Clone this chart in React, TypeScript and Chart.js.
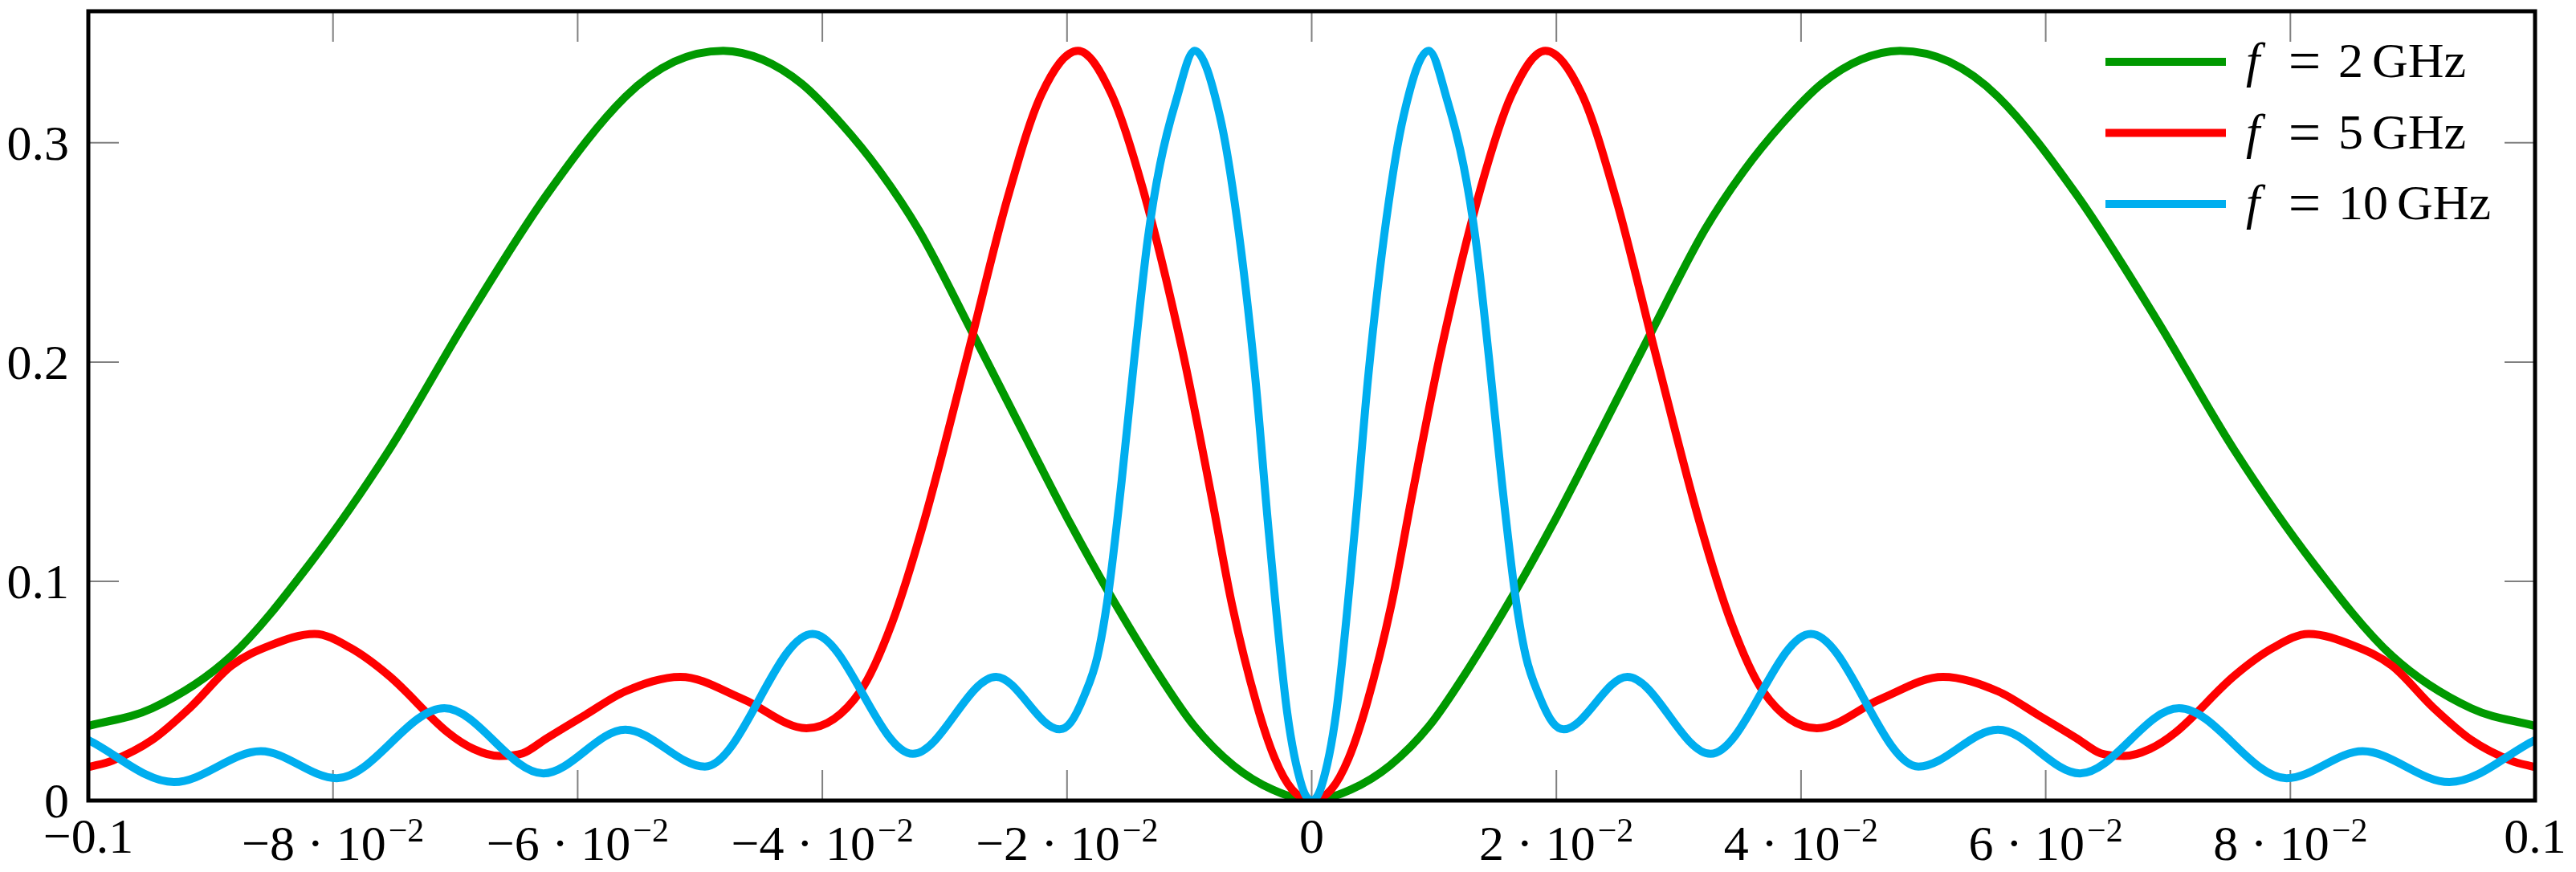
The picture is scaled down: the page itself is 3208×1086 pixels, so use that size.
import React, { useEffect, useRef } from "react";
import { Chart, registerables } from "chart.js";

Chart.register(...registerables);

// f = 2 GHz
const x2 = [
  -0.1, -0.0948, -0.0883, -0.0819, -0.0754, -0.069, -0.0625, -0.0561, -0.0521, -0.0481, -0.0449, -0.0417,
  -0.0385, -0.0353, -0.0321, -0.0277, -0.0224, -0.0197, -0.0165, -0.0128, -0.0096, -0.0064, -0.0032,
  0, 0.0032, 0.0064, 0.0096, 0.0128, 0.0165, 0.0197, 0.0224, 0.0277, 0.0321, 0.0353, 0.0385, 0.0417,
  0.0449, 0.0481, 0.0521, 0.0561, 0.0625, 0.069, 0.0754, 0.0819, 0.0883, 0.0948, 0.1,
];
const y2 = [
  0.034, 0.042, 0.066, 0.108, 0.16, 0.22, 0.2765, 0.321, 0.337, 0.342, 0.338, 0.327,
  0.309, 0.287, 0.26, 0.213, 0.155, 0.126, 0.094, 0.06, 0.034, 0.016, 0.005,
  0, 0.005, 0.016, 0.034, 0.06, 0.094, 0.126, 0.155, 0.213, 0.26, 0.287, 0.309, 0.327,
  0.338, 0.342, 0.337, 0.321, 0.2765, 0.22, 0.16, 0.108, 0.066, 0.042, 0.034,
];

// f = 5 GHz
const x5 = [
  -0.1, -0.098, -0.0948, -0.0916, -0.0883, -0.0851, -0.0815, -0.0786, -0.0754, -0.0706, -0.0685, -0.0664,
  -0.0645, -0.0625, -0.0593, -0.0561, -0.0516, -0.0465, -0.0413, -0.0369, -0.0343, -0.0317, -0.0282,
  -0.02485, -0.0221, -0.0191, -0.01635, -0.0138, -0.0106, -0.0082, -0.0065, -0.0045, -0.003, -0.0016,
  0, 0.0016, 0.003, 0.0045, 0.0065, 0.0082, 0.0106, 0.0138, 0.01635, 0.0191, 0.0221, 0.02485,
  0.0282, 0.0317, 0.0343, 0.0369, 0.0413, 0.0465, 0.0516, 0.0561, 0.0593, 0.0625, 0.0645, 0.0664,
  0.0685, 0.0706, 0.0754, 0.0786, 0.0815, 0.0851, 0.0883, 0.0916, 0.0948, 0.098, 0.1,
];
const y5 = [
  0.0152, 0.0183, 0.0276, 0.0428, 0.0615, 0.0708, 0.076, 0.0697, 0.0568, 0.031, 0.0235, 0.0203,
  0.0215, 0.0285, 0.0393, 0.0498, 0.0564, 0.0463, 0.033, 0.0498, 0.081, 0.127, 0.2017,
  0.275, 0.322, 0.342, 0.322, 0.279, 0.206, 0.139, 0.089, 0.044, 0.019, 0.005,
  0, 0.005, 0.019, 0.044, 0.089, 0.139, 0.206, 0.279, 0.322, 0.342, 0.322, 0.275,
  0.2017, 0.127, 0.081, 0.0498, 0.033, 0.0463, 0.0564, 0.0498, 0.0393, 0.0285, 0.0215, 0.0203,
  0.0235, 0.031, 0.0568, 0.0697, 0.076, 0.0708, 0.0615, 0.0428, 0.0276, 0.0183, 0.0152,
];

// f = 10 GHz
const x10 = [
  -0.1, -0.093, -0.0859, -0.0797, -0.0709, -0.0628, -0.0561, -0.0496, -0.0408, -0.0326, -0.0258,
  -0.0206, -0.0197, -0.0186, -0.0175, -0.01663, -0.01553, -0.0145, -0.0134, -0.0124, -0.0111,
  -0.00956, -0.0075, -0.0061, -0.00465, -0.0035, -0.002, -0.0008,
  0, 0.0008, 0.002, 0.0035, 0.00465, 0.0061, 0.0075, 0.00956, 0.0111, 0.0124, 0.0134, 0.0145,
  0.01553, 0.01663, 0.0175, 0.0186, 0.0197, 0.0206, 0.0258, 0.0326, 0.0408, 0.0496, 0.0561,
  0.0628, 0.0709, 0.0797, 0.0859, 0.093, 0.1,
];
const y10 = [
  0.0276, 0.0084, 0.0225, 0.0102, 0.0421, 0.0124, 0.0323, 0.0155, 0.076, 0.0213, 0.0564,
  0.0325, 0.0356, 0.0477, 0.066, 0.094, 0.146, 0.2015, 0.256, 0.29, 0.319,
  0.342, 0.312, 0.265, 0.195, 0.122, 0.04, 0.0065,
  0, 0.0065, 0.04, 0.122, 0.195, 0.265, 0.312, 0.342, 0.319, 0.29, 0.256, 0.2015,
  0.146, 0.094, 0.066, 0.0477, 0.0356, 0.0325, 0.0564, 0.0213, 0.076, 0.0155, 0.0323,
  0.0124, 0.0421, 0.0102, 0.0225, 0.0084, 0.0276,
];

const xTicks = [-0.1, -0.08, -0.06, -0.04, -0.02, 0, 0.02, 0.04, 0.06, 0.08, 0.1];
const xTickLabels = [
  "−0.1", "−8 · 10^−2", "−6 · 10^−2", "−4 · 10^−2", "−2 · 10^−2", "0",
  "2 · 10^−2", "4 · 10^−2", "6 · 10^−2", "8 · 10^−2", "0.1",
];
const yTicks = [0, 0.1, 0.2, 0.3];
const yTickLabels = ["0", "0.1", "0.2", "0.3"];

const freqs = ["2", "5", "10"];
const colors = ["rgb(0,153,0)", "rgb(255,0,0)", "rgb(0,174,239)"];

const SERIF = '"Liberation Serif", "DejaVu Serif", serif';
const FONT = 62;
const SUP = 42;
const TICK_LEN = 38;

const axisPlugin = {
  id: "pgfAxis",
  beforeDatasetsDraw(chart: any) {
    const { ctx, chartArea: a, scales } = chart;
    ctx.save();
    ctx.strokeStyle = "#808080";
    ctx.lineWidth = 2;
    ctx.beginPath();
    xTicks.forEach((v) => {
      const px = scales.x.getPixelForValue(v);
      ctx.moveTo(px, a.bottom);
      ctx.lineTo(px, a.bottom - TICK_LEN);
      ctx.moveTo(px, a.top);
      ctx.lineTo(px, a.top + TICK_LEN);
    });
    yTicks.forEach((v) => {
      const py = scales.y.getPixelForValue(v);
      ctx.moveTo(a.left, py);
      ctx.lineTo(a.left + TICK_LEN, py);
      ctx.moveTo(a.right, py);
      ctx.lineTo(a.right - TICK_LEN, py);
    });
    ctx.stroke();
    ctx.restore();
  },
  afterDatasetsDraw(chart: any) {
    const { ctx, chartArea: a, scales } = chart;
    ctx.save();

    // frame
    ctx.strokeStyle = "#000";
    ctx.lineWidth = 5;
    ctx.lineJoin = "miter";
    ctx.strokeRect(a.left, a.top, a.right - a.left, a.bottom - a.top);

    ctx.fillStyle = "#000";
    ctx.textBaseline = "alphabetic";

    // x labels, with the exponent raised
    xTicks.forEach((v, i) => {
      const cx = scales.x.getPixelForValue(v);
      const [main, sup] = xTickLabels[i].split("^");
      ctx.font = `${FONT}px ${SERIF}`;
      const wMain = ctx.measureText(main).width;
      ctx.textAlign = "left";
      if (!sup) {
        ctx.fillText(main, cx - wMain / 2, a.bottom + 65);
        return;
      }
      ctx.font = `${SUP}px ${SERIF}`;
      const wSup = ctx.measureText(sup).width;
      const gap = 3;
      const start = cx - (wMain + gap + wSup) / 2;
      ctx.font = `${FONT}px ${SERIF}`;
      ctx.fillText(main, start, a.bottom + 74);
      ctx.font = `${SUP}px ${SERIF}`;
      ctx.fillText(sup, start + wMain + gap, a.bottom + 51);
    });

    // y labels
    ctx.font = `${FONT}px ${SERIF}`;
    ctx.textAlign = "right";
    yTicks.forEach((v, i) => {
      const py = scales.y.getPixelForValue(v);
      ctx.fillText(yTickLabels[i], a.left - 24, py + 21);
    });

    // legend
    freqs.forEach((f, i) => {
      const ly = a.top + 63 + i * 88.5;
      ctx.strokeStyle = colors[i];
      ctx.lineWidth = 10;
      ctx.lineCap = "butt";
      ctx.beginPath();
      ctx.moveTo(a.right - 535, ly);
      ctx.lineTo(a.right - 385, ly);
      ctx.stroke();

      const base = ly + 19;
      ctx.textAlign = "left";
      ctx.font = `italic ${FONT}px ${SERIF}`;
      ctx.fillText("f", a.right - 360, base);
      ctx.textAlign = "center";
      ctx.font = `72px ${SERIF}`;
      ctx.fillText("=", a.right - 287, ly + 23);
      ctx.textAlign = "left";
      ctx.font = `${FONT}px ${SERIF}`;
      const nx = a.right - 245;
      ctx.fillText(f, nx, base);
      const w = ctx.measureText(f).width;
      ctx.fillText("GHz", nx + w + 11, base);
    });

    ctx.restore();
  },
};

export default function App() {
  const canvasRef = useRef<HTMLCanvasElement | null>(null);
  const chartRef = useRef<Chart | null>(null);

  useEffect(() => {
    if (!canvasRef.current) return;
    if (chartRef.current) chartRef.current.destroy();

    const series = [
      { xs: x2, ys: y2 },
      { xs: x5, ys: y5 },
      { xs: x10, ys: y10 },
    ];

    chartRef.current = new Chart(canvasRef.current, {
      type: "line",
      data: {
        datasets: series.map((s, i) => ({
          label: `f = ${freqs[i]} GHz`,
          data: s.xs.map((x, j) => ({ x, y: s.ys[j] })),
          borderColor: colors[i],
          backgroundColor: colors[i],
          borderWidth: 10,
          pointRadius: 0,
          cubicInterpolationMode: "monotone" as const,
          fill: false,
          clip: 0,
          order: 3 - i,
        })),
      },
      options: {
        responsive: false,
        animation: false,
        events: [],
        layout: { padding: { left: 110, right: 51, top: 14, bottom: 89 } },
        plugins: {
          legend: { display: false },
          tooltip: { enabled: false },
        },
        scales: {
          x: { type: "linear", min: -0.1, max: 0.1, display: false },
          y: { type: "linear", min: 0, max: 0.36, display: false },
        },
      },
      plugins: [axisPlugin],
    });

    return () => {
      if (chartRef.current) {
        chartRef.current.destroy();
        chartRef.current = null;
      }
    };
  }, []);

  return (
    <div style={{ position: "fixed", left: 0, top: 0, width: 3208, height: 1086, background: "#fff" }}>
      <canvas ref={canvasRef} width={3208} height={1086} style={{ display: "block" }} />
    </div>
  );
}
